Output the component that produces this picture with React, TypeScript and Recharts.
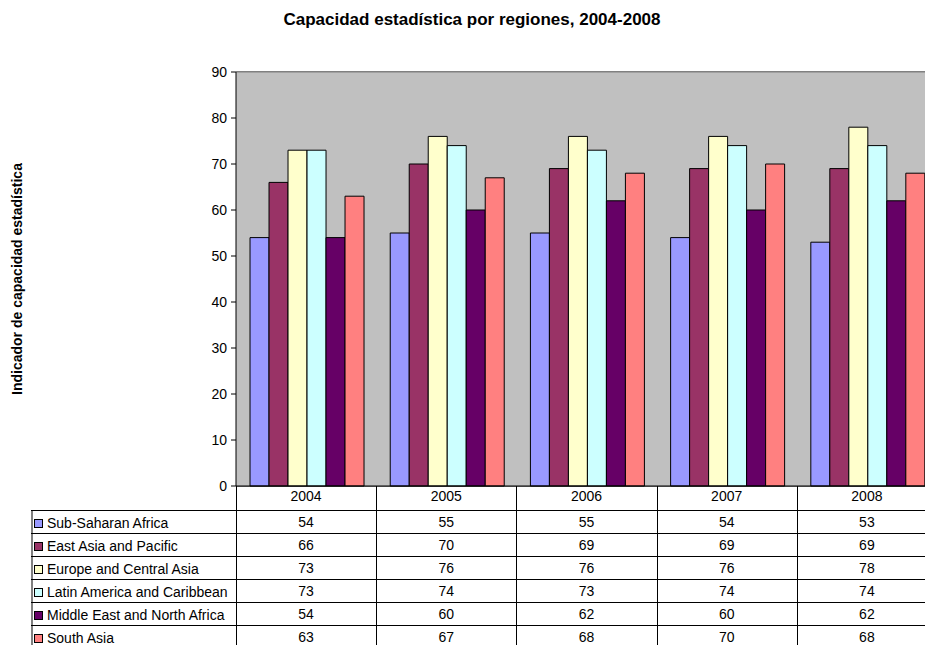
import React from 'react';
import { BarChart, Bar, XAxis, YAxis, CartesianGrid, ReferenceLine } from 'recharts';

const years = ['2004', '2005', '2006', '2007', '2008'];
const regionNames = [
  'Sub-Saharan Africa',
  'East Asia and Pacific',
  'Europe and Central Asia',
  'Latin America and Caribbean',
  'Middle East and North Africa',
  'South Asia',
];
const regionColors = ['#9999FF', '#993366', '#FFFFCC', '#CCFFFF', '#660066', '#FF8080'];

const subSaharanAfrica = [54, 55, 55, 54, 53];
const eastAsiaPacific = [66, 70, 69, 69, 69];
const europeCentralAsia = [73, 76, 76, 76, 78];
const latinAmerica = [73, 74, 73, 74, 74];
const middleEast = [54, 60, 62, 60, 62];
const southAsia = [63, 67, 68, 70, 68];

const yTicks = [0, 10, 20, 30, 40, 50, 60, 70, 80, 90];

const seriesValues = [subSaharanAfrica, eastAsiaPacific, europeCentralAsia, latinAmerica, middleEast, southAsia];
const seriesKeys = ['ssa', 'eap', 'eca', 'lac', 'mena', 'sa'];

const data = years.map((year, i) => {
  const row: any = { year };
  seriesKeys.forEach((k, s) => (row[k] = seriesValues[s][i]));
  return row;
});

// layout in page pixels (wrapper is fixed at 0,0)
const W = 945;
const H = 645;
const plotLeft = 236;
const plotRight = 937;
const plotTop = 72;
const plotBottom = 486;
const yAxisW = 45;
const xAxisH = 24;
const rowH = 23;
const legendLeft = 31;
const font = '"Liberation Sans", Arial, sans-serif';

export default function App() {
  const colW = (plotRight - plotLeft) / years.length;
  const tableTop = plotBottom + xAxisH;

  return (
    <div
      style={{
        position: 'fixed',
        left: 0,
        top: 0,
        width: 925,
        height: 645,
        overflow: 'hidden',
        fontFamily: font,
        background: '#fff',
        color: '#000',
      }}
    >
      <div
        style={{
          position: 'absolute',
          top: 10,
          left: 0,
          width: 944,
          textAlign: 'center',
          fontSize: 17,
          lineHeight: '20px',
          fontWeight: 'bold',
        }}
      >
        Capacidad estadística por regiones, 2004-2008
      </div>
      <div style={{ position: 'absolute', left: 17, top: 279, width: 0, height: 0 }}>
        <div
          style={{
            position: 'absolute',
            transform: 'translate(-50%, -50%) rotate(-90deg)',
            whiteSpace: 'nowrap',
            fontSize: 14,
            fontWeight: 'bold',
          }}
        >
          Indicador de capacidad estadística
        </div>
      </div>

      <div style={{ position: 'absolute', left: 0, top: 0 }}>
        <BarChart
          width={W}
          height={H}
          data={data}
          margin={{ top: plotTop, left: plotLeft - yAxisW, right: W - plotRight, bottom: H - plotBottom - xAxisH }}
          barCategoryGap="10%"
          barGap={0}
        >
          <rect x={plotLeft} y={plotTop} width={plotRight - plotLeft} height={plotBottom - plotTop} fill="#C0C0C0" />
          <CartesianGrid vertical={false} stroke="#000" strokeOpacity={1} />
          <ReferenceLine y={90} stroke="#808080" />
          <XAxis
            dataKey="year"
            height={xAxisH}
            tickLine={false}
            axisLine={{ stroke: '#000' }}
            tick={{ fontSize: 14, fill: '#000', fontFamily: font }}
            dy={-3}
          />
          <YAxis
            width={yAxisW}
            domain={[0, 90]}
            ticks={yTicks}
            interval={0}
            tickLine={{ stroke: '#000' }}
            tickSize={5}
            axisLine={{ stroke: '#000' }}
            tick={{ fontSize: 14, fill: '#000', fontFamily: font }}
            dx={-2}
          />
          {seriesKeys.map((k, s) => (
            <Bar
              key={k}
              dataKey={k}
              name={regionNames[s]}
              fill={regionColors[s]}
              stroke="#000"
              strokeWidth={1}
              isAnimationActive={false}
            />
          ))}
        </BarChart>
      </div>

      {/* data table under the axis */}
      {years.map((y, i) => (
        <div
          key={'hv' + y}
          style={{
            position: 'absolute',
            left: Math.round(plotLeft + i * colW),
            top: plotBottom,
            width: 1,
            height: xAxisH,
            background: '#000',
          }}
        />
      ))}
      <div
        style={{
          position: 'absolute',
          left: legendLeft,
          top: tableTop,
          width: 2,
          height: rowH * regionNames.length + 4,
          background: '#808080',
        }}
      />
      {years.map((y, i) => (
        <div
          key={'v' + y}
          style={{
            position: 'absolute',
            left: Math.round(plotLeft + i * colW),
            top: tableTop,
            width: 1,
            height: rowH * regionNames.length + 4,
            background: '#000',
          }}
        />
      ))}
      {regionNames.map((name, r) => (
        <div
          key={name}
          style={{
            position: 'absolute',
            left: legendLeft,
            top: tableTop + r * rowH,
            width: plotRight - legendLeft,
            height: rowH,
            borderTop: '1px solid #000',
            boxSizing: 'border-box',
            fontSize: 14,
            lineHeight: '16px',
          }}
        >
          <div
            style={{
              position: 'absolute',
              left: 3,
              top: 8,
              width: 7,
              height: 7,
              border: '1px solid #000',
              background: regionColors[r],
            }}
          />
          <div style={{ position: 'absolute', left: 16, top: 4, whiteSpace: 'nowrap' }}>{name}</div>
          {seriesValues[r].map((v, i) => (
            <div
              key={i}
              style={{
                position: 'absolute',
                left: plotLeft - legendLeft + i * colW,
                top: 3,
                width: colW,
                textAlign: 'center',
              }}
            >
              {v}
            </div>
          ))}
        </div>
      ))}
    </div>
  );
}
